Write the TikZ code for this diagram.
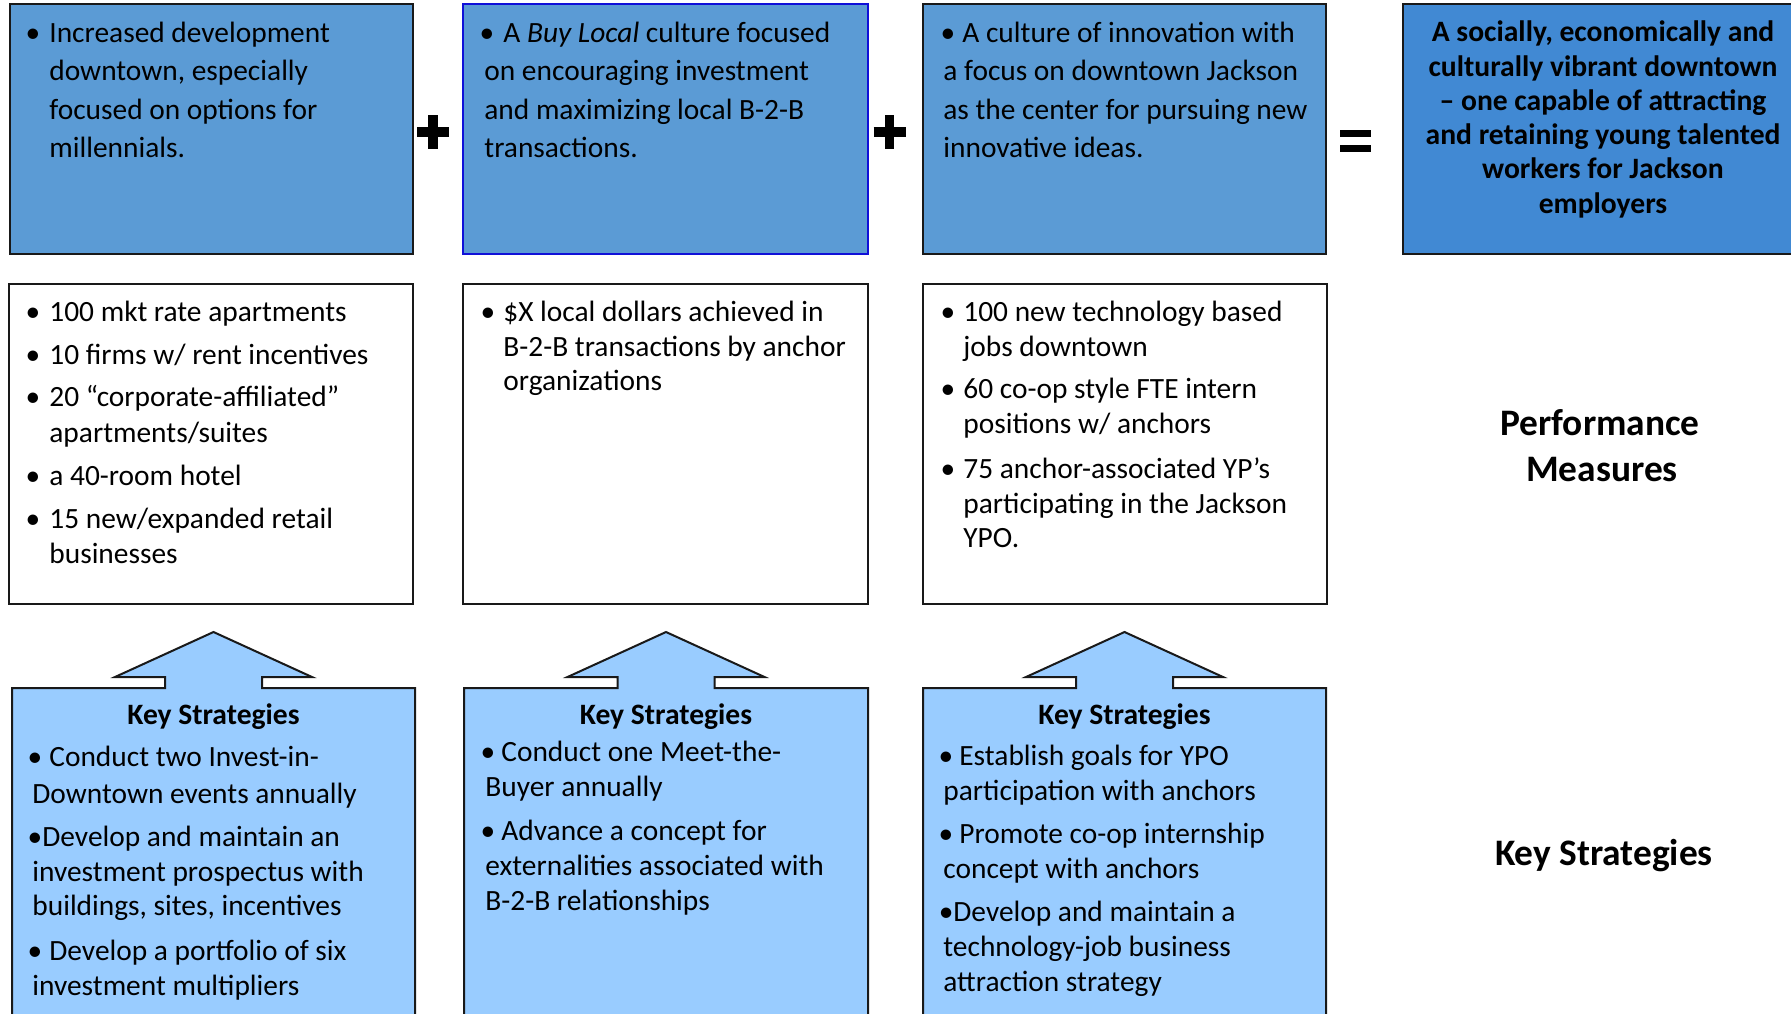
\documentclass[tikz,border=0pt]{standalone}
\usepackage{fontspec}
\setmainfont{Carlito}
\definecolor{goalblue}{HTML}{5B9BD5}
\definecolor{visionblue}{HTML}{4189D3}
\definecolor{stratblue}{HTML}{99CCFF}
\definecolor{edgeblue}{HTML}{1010D8}
% bullet hung to the left of the item text, #1 = gap between dot and text
\newcommand\bulletbox[1]{\llap{•\hspace*{#1}}}
\tikzset{
  x=0.5pt, y=-0.5pt,
  goalbox/.style={draw=black!90, fill=goalblue, line width=1pt},
  measurebox/.style={draw=black!90, fill=white, line width=1.1pt},
  stratshape/.style={draw=black!90, fill=stratblue, line width=1pt},
  ln/.style={anchor=base west, inner sep=0pt, font=\fontsize{14.7}{17}\selectfont},
  bln/.style={anchor=base, inner sep=0pt, font=\fontsize{14.8}{17}\selectfont\bfseries},
  biglabel/.style={anchor=base, inner sep=0pt, font=\fontsize{18.7}{22}\selectfont\bfseries},
  opbar/.style={line width=4.6pt, black},
}
\begin{document}
\begin{tikzpicture}
\useasboundingbox (0,0) rectangle (1791,1013);

% goal boxes
\draw[goalbox] (9.5,4) rectangle (413,254);
\draw[goalbox, draw=edgeblue] (463,4) rectangle (868,254);
\draw[goalbox] (923,4) rectangle (1326,254);
\draw[goalbox, fill=visionblue] (1403,4) rectangle (1800,254);

% operators
\coordinate (p1) at (433,132);
\coordinate (p2) at (889.5,132);
\draw[opbar] ([xshift=-8pt]p1) -- ([xshift=8pt]p1);
\draw[opbar] ([yshift=8.5pt]p1) -- ([yshift=-8.5pt]p1);
\draw[opbar] ([xshift=-8pt]p2) -- ([xshift=8pt]p2);
\draw[opbar] ([yshift=8.5pt]p2) -- ([yshift=-8.5pt]p2);
\draw[line width=3.7pt] (1340,133.7) -- (1371,133.7);
\draw[line width=3.7pt] (1340,148.7) -- (1371,148.7);

% performance measure boxes
\draw[measurebox] (9,284) rectangle (413,604);
\draw[measurebox] (463,284) rectangle (868,604);
\draw[measurebox] (923,284) rectangle (1327,604);

% key strategy boxes with upward arrows
\foreach \L/\R in {12/415, 464/868, 923/1326}{
  \pgfmathsetmacro\c{(\L+\R)/2}
  \draw[stratshape] (\L,1030) -- (\L,688) -- (\c-48.5,688) -- (\c-48.5,677)
    -- (\c-98.5,677) -- (\c,632) -- (\c+98.5,677) -- (\c+48.5,677)
    -- (\c+48.5,688) -- (\R,688) -- (\R,1030) -- cycle;
}

% goal texts
\node[ln] (ga1) at (49,42.5) {\bulletbox{4.6pt}Increased development};
\node[ln] (ga2) at (49,80.8) {downtown, especially};
\node[ln] (ga3) at (49,119) {focused on options for};
\node[ln] (ga4) at (49,157.3) {millennials.};

\node[ln] (gb1) at (503,42.5) {\bulletbox{4.6pt}A \textit{Buy Local} culture focused};
\node[ln] (gb2) at (484,80.8) {on encouraging investment};
\node[ln] (gb3) at (484,119) {and maximizing local B-2-B};
\node[ln] (gb4) at (484,157.3) {transactions.};

\node[ln] (gc1) at (962,42.5) {\bulletbox{3.6pt}A culture of innovation with};
\node[ln] (gc2) at (943,80.8) {a focus on downtown Jackson};
\node[ln] (gc3) at (943,119) {as the center for pursuing new};
\node[ln] (gc4) at (943,157.3) {innovative ideas.};

\node[bln] (gd1) at (1603,41.7) {A socially, economically and};
\node[bln] (gd2) at (1603,76) {culturally vibrant downtown};
\node[bln] (gd3) at (1603,110.3) {– one capable of attracting};
\node[bln] (gd4) at (1603,144.6) {and retaining young talented};
\node[bln] (gd5) at (1603,178.9) {workers for Jackson};
\node[bln] (gd6) at (1603,213.2) {employers};

% performance measure texts
\node[ln] (ma1) at (49,321.7) {\bulletbox{4.6pt}100 mkt rate apartments};
\node[ln] (ma2) at (49,364) {\bulletbox{4.6pt}10 firms w/ rent incentives};
\node[ln] (ma3) at (49,406.7) {\bulletbox{4.6pt}20 “corporate-affiliated”};
\node[ln] (ma4) at (49,442.7) {apartments/suites};
\node[ln] (ma5) at (49,485) {\bulletbox{4.6pt}a 40-room hotel};
\node[ln] (ma6) at (49,528) {\bulletbox{4.6pt}15 new/expanded retail};
\node[ln] (ma7) at (49,563) {businesses};

\node[ln] (mb1) at (503,321.7) {\bulletbox{4.1pt}\$X local dollars achieved in};
\node[ln] (mb2) at (503,356) {B-2-B transactions by anchor};
\node[ln] (mb3) at (503,390) {organizations};

\node[ln] (mc1) at (963,321.7) {\bulletbox{4.1pt}100 new technology based};
\node[ln] (mc2) at (963,356.7) {jobs downtown};
\node[ln] (mc3) at (963,398) {\bulletbox{4.1pt}60 co-op style FTE intern};
\node[ln] (mc4) at (963,433) {positions w/ anchors};
\node[ln] (mc5) at (963,478) {\bulletbox{4.1pt}75 anchor-associated YP’s};
\node[ln] (mc6) at (963,513) {participating in the Jackson};
\node[ln] (mc7) at (963,547) {YPO.};

% key strategy texts
\node[bln] (ka0) at (213.5,724) {Key Strategies};
\node[ln] (ka1) at (49,766.7) {\bulletbox{3.6pt}Conduct two Invest-in-};
\node[ln] (ka2) at (32,803) {Downtown events annually};
\node[ln] (ka3) at (42,846.7) {\bulletbox{0.1pt}Develop and maintain an};
\node[ln] (ka4) at (32,881.7) {investment prospectus with};
\node[ln] (ka5) at (32,915) {buildings, sites, incentives};
\node[ln] (ka6) at (49,960) {\bulletbox{3.6pt}Develop a portfolio of six};
\node[ln] (ka7) at (32,995) {investment multipliers};

\node[bln] (kb0) at (666,724) {Key Strategies};
\node[ln] (kb1) at (501,761.7) {\bulletbox{3.1pt}Conduct one Meet-the-};
\node[ln] (kb2) at (485,796.7) {Buyer annually};
\node[ln] (kb3) at (501,840) {\bulletbox{3.1pt}Advance a concept for};
\node[ln] (kb4) at (485,875) {externalities associated with};
\node[ln] (kb5) at (485,910) {B-2-B relationships};

\node[bln] (kc0) at (1124.5,724) {Key Strategies};
\node[ln] (kc1) at (959,765) {\bulletbox{3.1pt}Establish goals for YPO};
\node[ln] (kc2) at (943,800) {participation with anchors};
\node[ln] (kc3) at (959,843) {\bulletbox{3.1pt}Promote co-op internship};
\node[ln] (kc4) at (943,878) {concept with anchors};
\node[ln] (kc5) at (953,921.7) {\bulletbox{0pt}Develop and maintain a};
\node[ln] (kc6) at (943,956.7) {technology-job business};
\node[ln] (kc7) at (943,991.7) {attraction strategy};

% row labels
\node[biglabel] (pm1) at (1600,435) {Performance};
\node[biglabel] (pm2) at (1602,481.7) {Measures};
\node[biglabel] (ks) at (1604,865) {Key Strategies};
\end{tikzpicture}
\end{document}
